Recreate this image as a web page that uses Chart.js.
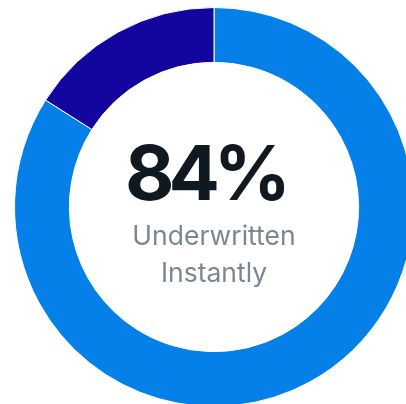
<!DOCTYPE html>
<html>
<head>
<meta charset="utf-8">
<script src="https://cdn.jsdelivr.net/npm/chart.js@4/dist/chart.umd.min.js"></script>
<style>
  html, body { margin: 0; padding: 0; background: #fff; overflow: hidden; }
  #wrap { width: 428px; height: 414px; }
</style>
</head>
<body>
<div id="wrap"><canvas id="donut"></canvas></div>
<script>
const segmentLabels = ['Underwritten Instantly', 'Other'];
const segmentValues = [84, 16];
const segmentColors = ['#0580E8', '#12069F'];

const centerValue = '84%';
const centerCaption = ['Underwritten', 'Instantly'];

// writes the headline figure and caption inside the ring
const centerText = {
    id: 'centerText',
    afterDraw(chart) {
        const { ctx } = chart;
        const arc = chart.getDatasetMeta(0).data[0];
        const cx = arc.x, cy = arc.y;
        ctx.save();
        ctx.textAlign = 'center';
        ctx.textBaseline = 'alphabetic';
        ctx.fillStyle = '#101820';
        ctx.font = 'bold 76px Inter';
        ctx.letterSpacing = '-6px';
        ctx.fillText(centerValue, cx - 9, cy - 7);
        ctx.letterSpacing = '0px';
        ctx.fillStyle = '#7A8790';
        ctx.font = '26.5px Inter';
        ctx.fillText(centerCaption[0], cx, cy + 38);
        ctx.fillText(centerCaption[1], cx, cy + 75);
        ctx.restore();
    }
};

new Chart(document.getElementById('donut'), {
    type: 'doughnut',
    data: {
        labels: segmentLabels,
        datasets: [{
            data: segmentValues,
            backgroundColor: segmentColors,
            borderColor: '#ffffff',
            borderWidth: 1
        }]
    },
    options: {
        responsive: true,
        maintainAspectRatio: false,
        animation: false,
        cutout: '72.5%',
        layout: { padding: 7 },
        plugins: {
            legend: { display: false },
            tooltip: { enabled: false }
        }
    },
    plugins: [centerText]
});
</script>
</body>
</html>
